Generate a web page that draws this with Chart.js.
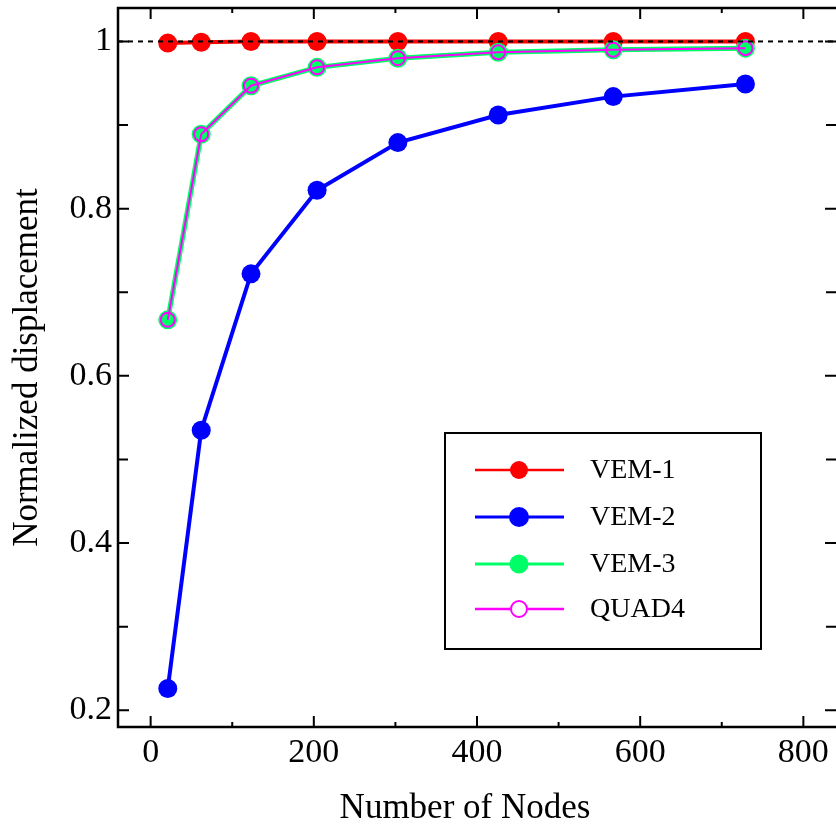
<!DOCTYPE html>
<html>
<head>
<meta charset="utf-8">
<script src="https://cdn.jsdelivr.net/npm/chart.js@4.4.1/dist/chart.umd.min.js"></script>
<style>
  html, body { margin: 0; padding: 0; background: #ffffff; }
  #wrap { width: 836px; height: 825px; }
</style>
</head>
<body>
<div id="wrap"><canvas id="c" width="836" height="825"></canvas></div>
<script>
// ---- data ----
const nodes = [21, 62, 123, 204, 303, 426, 567, 729];
const vem1  = [0.998, 0.999, 1.000, 1.000, 1.000, 1.000, 1.000, 1.000];
const vem2  = [0.226, 0.535, 0.722, 0.822, 0.879, 0.912, 0.934, 0.949];
const vem3  = [0.667, 0.889, 0.947, 0.969, 0.980, 0.987, 0.990, 0.992];
const quad4 = [0.667, 0.889, 0.947, 0.969, 0.980, 0.987, 0.990, 0.992];
const seriesNames = ['VEM-1', 'VEM-2', 'VEM-3', 'QUAD4'];
const xTicks = [0, 200, 400, 600, 800];
const xTickLabels = ['0', '200', '400', '600', '800'];
const xMinorTicks = [100, 300, 500, 700];
const yTicks = [0.2, 0.4, 0.6, 0.8, 1];
const yTickLabels = ['0.2', '0.4', '0.6', '0.8', '1'];
const yMinorTicks = [0.3, 0.5, 0.7, 0.9];
const referenceValue = 1;
const xTitle = 'Number of Nodes';
const yTitle = 'Normalized displacement';

const pts = arr => nodes.map((n, i) => ({ x: n, y: arr[i] }));
const FONT = '"Liberation Serif", "Times New Roman", serif';

const styles = [
  { color: '#ff0000', lw: 4, r: 9.5, fill: '#ff0000', bw: 0, legLw: 2.5, legR: 9 },
  { color: '#0000ff', lw: 4, r: 9.5, fill: '#0000ff', bw: 0, legLw: 3, legR: 10 },
  { color: '#00ff66', lw: 5, r: 9.5, fill: '#00ff66', bw: 0, legLw: 3, legR: 9.5 },
  { color: '#ff00ff', lw: 2, r: 7, fill: 'rgba(0,0,0,0)', bw: 2, legLw: 2.5, legR: 8 }
];
const seriesData = [vem1, vem2, vem3, quad4];

const datasets = seriesData.map((arr, i) => ({
  label: seriesNames[i],
  data: pts(arr),
  showLine: true,
  borderColor: styles[i].color,
  borderWidth: styles[i].lw,
  pointRadius: styles[i].r,
  pointHoverRadius: styles[i].r,
  pointBackgroundColor: styles[i].fill,
  pointBorderColor: styles[i].color,
  pointBorderWidth: styles[i].bw,
  order: 4 - i
}));

const decor = {
  id: 'decor',
  beforeDraw(chart) {
    // centre the x title a little left, as in the reference
    const xs = chart.scales.x;
    xs._savedRight = xs.right;
    xs.right = xs.right - 24;
  },
  afterDraw(chart) {
    const xs = chart.scales.x;
    if (xs._savedRight !== undefined) xs.right = xs._savedRight;
  },
  afterDatasetsDraw(chart) {
    const ctx = chart.ctx, a = chart.chartArea;
    const xs = chart.scales.x, ys = chart.scales.y;
    ctx.save();
    // reference dashed line
    const yr = ys.getPixelForValue(referenceValue);
    ctx.strokeStyle = '#000';
    ctx.lineWidth = 2;
    ctx.setLineDash([5, 5]);
    ctx.beginPath();
    ctx.moveTo(a.left, yr);
    ctx.lineTo(a.right, yr);
    ctx.stroke();
    ctx.setLineDash([]);
    // frame (left, bottom, top)
    ctx.lineWidth = 2.5;
    ctx.beginPath();
    ctx.moveTo(a.right + 2, a.top);
    ctx.lineTo(a.left, a.top);
    ctx.lineTo(a.left, a.bottom);
    ctx.lineTo(a.right + 2, a.bottom);
    ctx.stroke();
    // x ticks
    ctx.lineWidth = 2;
    const xt = (v, len) => {
      const p = xs.getPixelForValue(v);
      ctx.beginPath();
      ctx.moveTo(p, a.bottom); ctx.lineTo(p, a.bottom - len);
      ctx.moveTo(p, a.top); ctx.lineTo(p, a.top + len);
      ctx.stroke();
    };
    xTicks.forEach(v => xt(v, 11));
    xMinorTicks.forEach(v => xt(v, 5));
    const yt = (v, len) => {
      const p = ys.getPixelForValue(v);
      ctx.beginPath();
      ctx.moveTo(a.left, p); ctx.lineTo(a.left + len, p);
      ctx.moveTo(a.right, p); ctx.lineTo(a.right - len, p);
      ctx.stroke();
    };
    yTicks.forEach(v => yt(v, 11));
    yMinorTicks.forEach(v => yt(v, 10));

    // legend
    const bx = 445, by = 433, bw = 316, bh = 216;
    ctx.fillStyle = '#fff';
    ctx.fillRect(bx, by, bw, bh);
    ctx.lineWidth = 2;
    ctx.strokeStyle = '#000';
    ctx.strokeRect(bx, by, bw, bh);
    const rows = [470, 517, 564, 609];
    ctx.font = '28px ' + FONT;
    ctx.textBaseline = 'middle';
    ctx.textAlign = 'left';
    seriesNames.forEach((name, i) => {
      const s = styles[i], y = rows[i];
      ctx.strokeStyle = s.color;
      ctx.lineWidth = s.legLw;
      ctx.beginPath();
      ctx.moveTo(475, y); ctx.lineTo(564, y);
      ctx.stroke();
      ctx.beginPath();
      ctx.arc(519, y, s.legR, 0, Math.PI * 2);
      if (s.bw > 0) {
        ctx.fillStyle = '#fff';
        ctx.fill();
        ctx.lineWidth = s.bw;
        ctx.strokeStyle = s.color;
        ctx.stroke();
      } else {
        ctx.fillStyle = s.fill;
        ctx.fill();
      }
      ctx.fillStyle = '#000';
      ctx.fillText(name, 590, y + 1);
    });
    ctx.restore();
  }
};

new Chart(document.getElementById('c'), {
  type: 'scatter',
  data: { datasets },
  options: {
    responsive: false,
    animation: false,
    devicePixelRatio: 1,
    layout: { autoPadding: false, padding: { top: 8, right: 0, left: 0, bottom: 0 } },
    plugins: { legend: { display: false }, tooltip: { enabled: false } },
    scales: {
      x: {
        type: 'linear', position: 'bottom', min: -40, max: 840,
        grid: { display: false, drawTicks: false },
        border: { display: false },
        afterBuildTicks: s => { s.ticks = xTicks.map(v => ({ value: v })); },
        afterFit: s => { s.height = 98; s.paddingLeft = 0; s.paddingRight = 0; },
        ticks: {
          color: '#000', padding: 6, maxRotation: 0, autoSkip: false,
          font: { family: FONT, size: 34 },
          callback: (v, i) => xTickLabels[i]
        },
        title: {
          display: true, text: xTitle, color: '#000',
          font: { family: FONT, size: 35, lineHeight: 1 }, padding: { top: 0, bottom: -1 }
        }
      },
      y: {
        type: 'linear', position: 'left', min: 0.18, max: 1.04,
        grid: { display: false, drawTicks: false },
        border: { display: false },
        afterBuildTicks: s => { s.ticks = yTicks.map(v => ({ value: v })); },
        afterFit: s => { s.width = 118; s.paddingTop = 0; s.paddingBottom = 0; },
        ticks: {
          color: '#000', padding: 6, autoSkip: false,
          font: { family: FONT, size: 34 },
          callback: (v, i) => yTickLabels[i]
        },
        title: {
          display: true, text: yTitle, color: '#000',
          font: { family: FONT, size: 35 }, padding: { top: 7, bottom: 0 }
        }
      }
    }
  },
  plugins: [decor]
});
</script>
</body>
</html>
